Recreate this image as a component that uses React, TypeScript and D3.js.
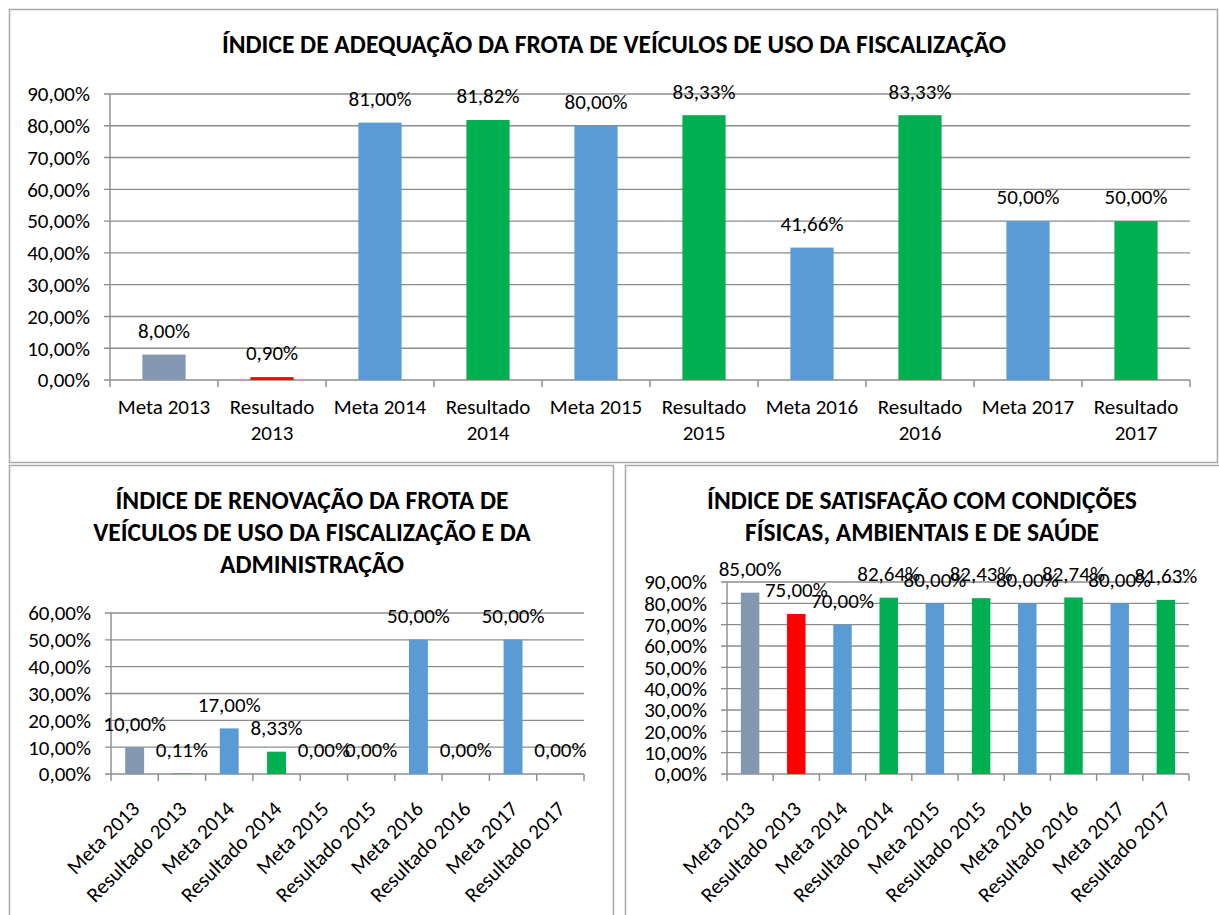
import React from "react";
import * as d3 from "d3";

const categories = [
  "Meta 2013", "Resultado 2013", "Meta 2014", "Resultado 2014", "Meta 2015",
  "Resultado 2015", "Meta 2016", "Resultado 2016", "Meta 2017", "Resultado 2017",
];
const barColors = [
  "#8497b0", "#ff0000", "#5b9bd5", "#00b050", "#5b9bd5",
  "#00b050", "#5b9bd5", "#00b050", "#5b9bd5", "#00b050",
];

const adequacaoValues = [8.0, 0.9, 81.0, 81.82, 80.0, 83.33, 41.66, 83.33, 50.0, 50.0];
const renovacaoValues = [10.0, 0.11, 17.0, 8.33, 0.0, 0.0, 50.0, 0.0, 50.0, 0.0];
const satisfacaoValues = [85.0, 75.0, 70.0, 82.64, 80.0, 82.43, 80.0, 82.74, 80.0, 81.63];

const adequacaoTitle = ["ÍNDICE DE ADEQUAÇÃO DA FROTA DE VEÍCULOS DE USO DA FISCALIZAÇÃO"];
const renovacaoTitle = [
  "ÍNDICE DE RENOVAÇÃO DA FROTA DE",
  "VEÍCULOS DE USO DA FISCALIZAÇÃO E DA",
  "ADMINISTRAÇÃO",
];
const satisfacaoTitle = ["ÍNDICE DE SATISFAÇÃO COM CONDIÇÕES", "FÍSICAS, AMBIENTAIS E DE SAÚDE"];

const FONT = "'Carlito', 'Liberation Sans', Arial, sans-serif";
const GRID = "#8c8c8c";
const BORDER = "#a6a6a6";
const LABEL_SIZE = 21;

const fmt = (v: number) => v.toFixed(2).replace(".", ",") + "%";

type Props = {
  box: [number, number, number, number];
  title: string[];
  titleX: number;
  titleY: number;
  titleGap: number;
  titleSize: number;
  plot: { x0: number; x1: number; top: number; bottom: number };
  yMax: number;
  yStep: number;
  values: number[];
  rotate: boolean;
};

function BarChart(p: Props) {
  const x = d3
    .scaleBand<string>()
    .domain(categories)
    .range([p.plot.x0, p.plot.x1])
    .paddingInner(0.6)
    .paddingOuter(0.3);
  const step = (p.plot.x1 - p.plot.x0) / categories.length;
  const y = d3.scaleLinear().domain([0, p.yMax]).range([p.plot.bottom, p.plot.top]);
  const ticks = d3.range(0, p.yMax + p.yStep / 2, p.yStep);
  const [bx, by, bw, bh] = p.box;

  return (
    <g fontFamily={FONT}>
      <rect x={bx} y={by} width={bw} height={bh} fill="white" stroke={BORDER} strokeWidth={1.5} />
      {p.title.map((t, i) => (
        <text
          key={i}
          x={p.titleX}
          y={p.titleY + i * p.titleGap}
          textAnchor="middle"
          fontWeight="bold"
          fontSize={p.titleSize}
          fill="#000"
        >
          {t}
        </text>
      ))}
      {ticks.map((t) => (
        <g key={t}>
          <line x1={p.plot.x0 - 6} x2={p.plot.x1} y1={y(t)} y2={y(t)} stroke={GRID} strokeWidth={1.4} />
          <text x={p.plot.x0 - 20} y={y(t)} dy="0.35em" textAnchor="end" fontSize={LABEL_SIZE} fill="#000">
            {fmt(t)}
          </text>
        </g>
      ))}
      <line x1={p.plot.x0} x2={p.plot.x0} y1={p.plot.top} y2={p.plot.bottom + 7} stroke={GRID} strokeWidth={1.4} />
      {d3.range(1, categories.length + 1).map((i) => (
        <line
          key={i}
          x1={p.plot.x0 + i * step}
          x2={p.plot.x0 + i * step}
          y1={p.plot.bottom}
          y2={p.plot.bottom + 7}
          stroke={GRID}
          strokeWidth={1.4}
        />
      ))}
      {p.values.map((v, i) => (
        <rect
          key={categories[i]}
          x={x(categories[i])}
          width={x.bandwidth()}
          y={y(v)}
          height={p.plot.bottom - y(v)}
          fill={barColors[i]}
        />
      ))}
      {p.values.map((v, i) => (
        <text
          key={categories[i]}
          x={(x(categories[i]) as number) + x.bandwidth() / 2}
          y={y(v) - 24}
          dy="0.35em"
          textAnchor="middle"
          fontSize={LABEL_SIZE}
          fill="#000"
        >
          {fmt(v)}
        </text>
      ))}
      {categories.map((c, i) => {
        const cx = p.plot.x0 + (i + 0.5) * step;
        if (p.rotate) {
          return (
            <text
              key={c}
              transform={`translate(${cx + 1},${p.plot.bottom + 31}) rotate(-45)`}
              dy="0.35em"
              textAnchor="end"
              fontSize={LABEL_SIZE}
              fill="#000"
            >
              {c}
            </text>
          );
        }
        const parts = c.startsWith("Resultado") ? c.split(" ") : [c];
        return (
          <text key={c} textAnchor="middle" fontSize={LABEL_SIZE} fill="#000">
            {parts.map((s, j) => (
              <tspan key={j} x={cx} y={p.plot.bottom + 27 + j * 26} dy="0.35em">
                {s}
              </tspan>
            ))}
          </text>
        );
      })}
    </g>
  );
}

export default function App() {
  return (
    <svg
      width={1219}
      height={915}
      style={{ position: "absolute", left: 0, top: 0, background: "white" }}
    >
      <BarChart
        box={[9.5, 9.5, 1208, 453]}
        title={adequacaoTitle}
        titleX={614}
        titleY={53}
        titleGap={0}
        titleSize={25.5}
        plot={{ x0: 110, x1: 1190, top: 94, bottom: 380 }}
        yMax={90}
        yStep={10}
        values={adequacaoValues}
        rotate={false}
      />
      <BarChart
        box={[9.5, 465.5, 604, 460]}
        title={renovacaoTitle}
        titleX={312}
        titleY={509}
        titleGap={32}
        titleSize={25.5}
        plot={{ x0: 111, x1: 584, top: 613, bottom: 774 }}
        yMax={60}
        yStep={10}
        values={renovacaoValues}
        rotate={true}
      />
      <BarChart
        box={[625.5, 465.5, 604, 460]}
        title={satisfacaoTitle}
        titleX={922}
        titleY={509}
        titleGap={32}
        titleSize={25.5}
        plot={{ x0: 727, x1: 1189, top: 582, bottom: 774 }}
        yMax={90}
        yStep={10}
        values={satisfacaoValues}
        rotate={true}
      />
    </svg>
  );
}
